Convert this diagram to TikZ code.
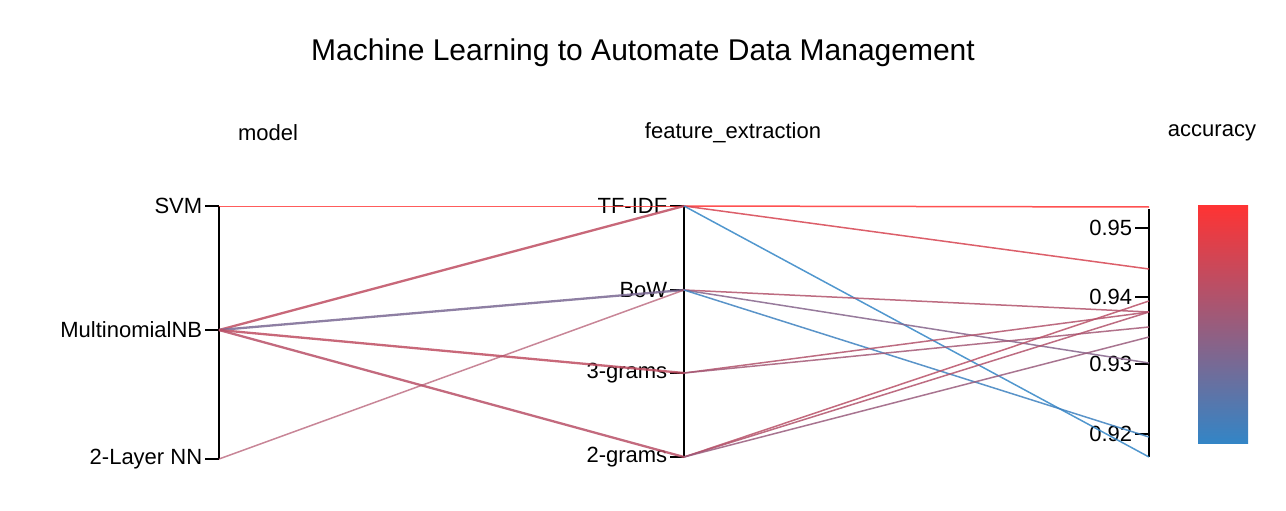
\documentclass[tikz,border=0pt]{standalone}
\usepackage{fontspec}
\setmainfont{Liberation Sans}
\begin{document}
\definecolor{hi}{HTML}{FF3333}
\definecolor{lo}{HTML}{3385C6}
\begin{tikzpicture}[x=1pt,y=-1pt,
  ax/.style={line width=1.6pt,black},
  tk/.style={line width=1.6pt,black},
  lab/.style={font=\fontsize{22}{22}\selectfont,text=black},
  pl/.style={line width=1.5pt,opacity=0.85},
  pt/.style={line width=2.3pt,opacity=0.85}]
\useasboundingbox (0,0) rectangle (1286,511);
\node at (643,53) {\fontsize{30}{30}\selectfont Machine Learning to Automate Data Management};
\node[lab] (hm) at (268,133) {model};
\node[lab] (hf) at (733,133) {feature\_extraction};
\node[lab] (ha) at (1212,133) {accuracy};
% axes
\coordinate (m1) at (219,206); \coordinate (m2) at (219,330); \coordinate (m3) at (219,459);
\coordinate (f1) at (684,206); \coordinate (f2) at (684,290); \coordinate (f3) at (684,373); \coordinate (f4) at (684,457);
\coordinate (atop) at (1149,209); \coordinate (abot) at (1149,457);
\draw[ax] (m1) -- (m3); \draw[ax] (f1) -- (f4); \draw[ax] (atop) -- (abot);
\foreach \c/\t in {m1/SVM,m2/MultinomialNB,m3/2-Layer NN,f1/TF-IDF,f2/BoW,f3/3-grams,f4/2-grams}{
  \draw[tk] (\c) -- ++(-14,0) node[lab,anchor=east,inner sep=2pt] {\t};}
\foreach \y/\t in {228/0.95,297/0.94,364/0.93,434/0.92}{
  \draw[tk] (1149,\y) -- ++(-14,0) node[lab,anchor=east,inner sep=2pt] {\t};}
% accuracy end points
\coordinate (a1) at (1149,207); \coordinate (a2) at (1149,269); \coordinate (a3) at (1149,301);
\coordinate (a4) at (1149,312); \coordinate (a5) at (1149,327); \coordinate (a6) at (1149,337);
\coordinate (a7) at (1149,363); \coordinate (a8) at (1149,437); \coordinate (a9) at (1149,457);
% lines model-feature
\draw[line width=1pt,opacity=0.8,hi] (m1) -- (f1);
\draw[pt,hi!68!lo] (m2) -- (f1);
\draw[pt,hi!35!lo] (m2) -- (f2);
\draw[pt,hi!68!lo] (m2) -- (f3);
\draw[pt,hi!65!lo] (m2) -- (f4);
\draw[pl,hi!62!lo,opacity=0.7] (m3) -- (f2);
% feature-accuracy
\draw[pl,hi!100!lo] (f1) -- (a1);
\draw[pl,hi!80!lo] (f1) -- (a2);
\draw[pl,hi!0!lo] (f1) -- (a9);
\draw[pl,hi!62!lo] (f2) -- (a4);
\draw[pl,hi!40!lo] (f2) -- (a7);
\draw[pl,hi!5!lo] (f2) -- (a8);
\draw[pl,hi!62!lo] (f3) -- (a4);
\draw[pl,hi!55!lo] (f3) -- (a5);
\draw[pl,hi!65!lo] (f4) -- (a3);
\draw[pl,hi!62!lo] (f4) -- (a4);
\draw[pl,hi!50!lo] (f4) -- (a6);
% colour bar
\shade[top color=hi,bottom color=lo] (1198,205) rectangle (1248,443);
\end{tikzpicture}
\end{document}
